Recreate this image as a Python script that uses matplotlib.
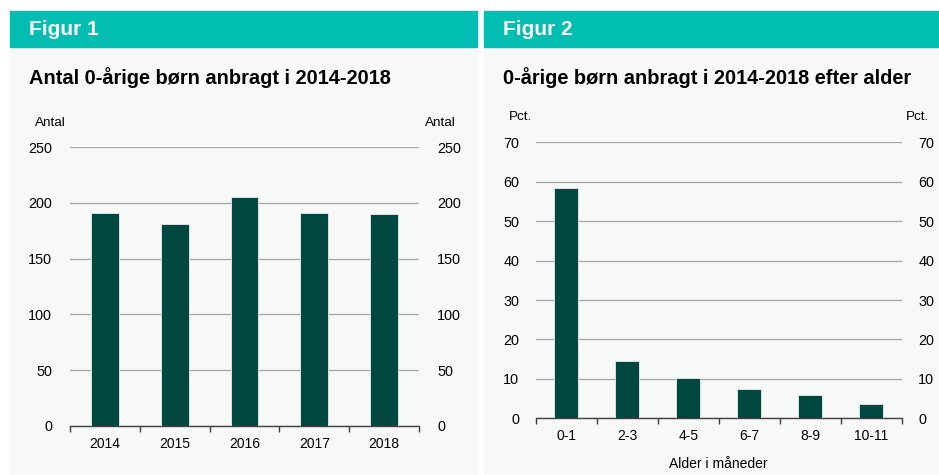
#!/usr/bin/env python3
# -*- coding: utf-8 -*-

import matplotlib
matplotlib.use("Agg")
import matplotlib.pyplot as plt
from matplotlib.patches import Rectangle
import numpy as np

plt.rcParams['font.family'] = ['Liberation Sans', 'DejaVu Sans']

W, H = 939, 475

years = ['2014', '2015', '2016', '2017', '2018']
antal = [191, 181, 205, 191, 190]

ages = ['0-1', '2-3', '4-5', '6-7', '8-9', '10-11']
pct = [58.4, 14.5, 10.1, 7.4, 5.9, 3.7]

teal = '#00bfb2'
panel_bg = '#f7f8f8'
bar_col = '#004740'
grid_col = '#a6a6a6'
axis_col = '#404040'


def px_rect(x0, y0, x1, y1):
    # pixel box (top-left origin) -> figure fraction
    return [x0 / W, 1 - y1 / H, (x1 - x0) / W, (y1 - y0) / H]


def draw_panel(fig, box, fignum, title):
    x0, y0, x1, y1 = box
    fig.patches.append(Rectangle((x0 / W, 1 - y1 / H), (x1 - x0) / W, (y1 - y0) / H,
                                 transform=fig.transFigure, color=panel_bg, zorder=0))
    fig.patches.append(Rectangle((x0 / W, 1 - 47 / H), (x1 - x0) / W, 36 / H,
                                 transform=fig.transFigure, color=teal, zorder=1))
    fig.text((x0 + 19) / W, 1 - 29.5 / H, fignum, color='white', fontsize=15,
             fontweight='bold', va='center', ha='left')
    fig.text((x0 + 19) / W, 1 - 77.5 / H, title, color='black', fontsize=14.4,
             fontweight='bold', va='center', ha='left')


def draw_bars(ax, cats, vals, ymax, step):
    n = len(cats)
    x = np.arange(n)
    ax.set_zorder(5)
    ax.set_facecolor('none')
    ax.bar(x, vals, width=0.4, color=bar_col, edgecolor='#e8eeec', linewidth=0.6, zorder=3)
    ax.set_xlim(-0.5, n - 0.5)
    ax.set_ylim(0, ymax)
    ax.set_yticks(np.arange(0, ymax + 1, step))
    ax.yaxis.grid(True, color=grid_col, linewidth=0.9)
    ax.set_axisbelow(True)
    for s in ['top', 'left', 'right']:
        ax.spines[s].set_visible(False)
    ax.spines['bottom'].set_color(axis_col)
    ax.spines['bottom'].set_linewidth(1.0)
    ax.set_xticks(np.arange(-0.5, n, 1.0))
    ax.set_xticklabels([])
    ax.set_xticks(x, minor=True)
    ax.set_xticklabels(cats, minor=True)
    ax.tick_params(axis='x', which='major', length=4, width=1, color=axis_col, direction='out')
    ax.tick_params(axis='x', which='minor', length=0, pad=8, labelsize=10)
    ax.tick_params(axis='y', length=0, labelleft=True, labelright=True, pad=13, labelsize=10.4)


fig = plt.figure(figsize=(W / 100, H / 100), dpi=100)
fig.patch.set_facecolor('white')

# Figur 1
draw_panel(fig, (10, 11, 477, 474), 'Figur 1', 'Antal 0-årige børn anbragt i 2014-2018')
ax1 = fig.add_axes(px_rect(70, 147.3, 419, 425.7))
draw_bars(ax1, years, antal, 250, 50)
fig.text(35 / W, 1 - 123 / H, 'Antal', fontsize=9.7, ha='left', va='center', zorder=6)
fig.text(456 / W, 1 - 123 / H, 'Antal', fontsize=9.7, ha='right', va='center', zorder=6)

# Figur 2
draw_panel(fig, (484, 11, 939, 474), 'Figur 2', '0-årige børn anbragt i 2014-2018 efter alder')
ax2 = fig.add_axes(px_rect(535.7, 142.3, 901.7, 418.3))
draw_bars(ax2, ages, pct, 70, 10)
ax2.tick_params(axis='y', pad=12)
ax2.set_xlabel('Alder i måneder', fontsize=10, labelpad=10)
fig.text(509 / W, 1 - 117 / H, 'Pct.', fontsize=9.7, ha='left', va='center', zorder=6)
fig.text(929 / W, 1 - 117 / H, 'Pct.', fontsize=9.7, ha='right', va='center', zorder=6)

plt.savefig('out.png', dpi=100)
